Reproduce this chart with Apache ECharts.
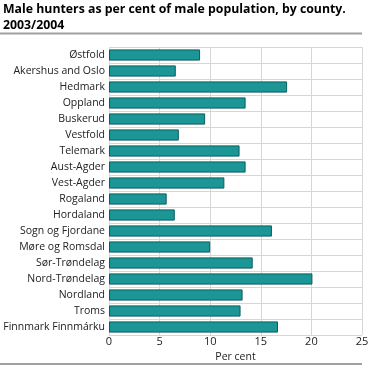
<!DOCTYPE html>
<html>
<head>
<meta charset="utf-8">
<script src="https://cdn.jsdelivr.net/npm/echarts@6/dist/echarts.min.js"></script>
<style>
html,body{margin:0;padding:0;background:#fff;}
#c{width:368px;height:367px;}
</style>
</head>
<body>
<div id="c"></div>
<script>
const categories = ["Østfold","Akershus and Oslo","Hedmark","Oppland","Buskerud","Vestfold","Telemark","Aust-Agder","Vest-Agder","Rogaland","Hordaland","Sogn og Fjordane","Møre og Romsdal","Sør-Trøndelag","Nord-Trøndelag","Nordland","Troms","Finnmark Finnmárku"];
const values = [9.0, 6.6, 17.6, 13.5, 9.5, 6.9, 12.9, 13.5, 11.4, 5.7, 6.5, 16.1, 10.0, 14.2, 20.1, 13.2, 13.0, 16.7];
const xTicks = [0, 5, 10, 15, 20, 25];
const titleText = "Male hunters as per cent of male population, by county.\n2003/2004";
const xAxisName = "Per cent";

const chart = echarts.init(document.getElementById('c'), null, {renderer:'canvas'});
const font = "'Open Sans', sans-serif";
chart.setOption({
  animation:false,
  textStyle:{fontFamily:font},
  title:{
    text:titleText, left:3, top:0, padding:[1,0,0,0],
    textStyle:{fontFamily:font,fontSize:12.3,fontWeight:'bold',color:'#000',lineHeight:16}
  },
  graphic:[
    {type:'rect',z:100,shape:{x:0,y:32.5,width:362,height:2},style:{fill:'#a0a0a0'}},
    {type:'rect',z:100,shape:{x:0,y:363,width:362,height:2},style:{fill:'#a0a0a0'}}
  ],
  grid:{left:109,right:6,top:47,bottom:32,containLabel:false,outerBoundsMode:'none'},
  xAxis:{
    type:'value', min:xTicks[0], max:xTicks[xTicks.length-1], interval:5,
    name:xAxisName, nameLocation:'middle', nameGap:16,
    nameTextStyle:{fontFamily:font,fontSize:10.5,color:'#222'},
    axisLine:{show:false}, axisTick:{show:false},
    axisLabel:{fontFamily:font,fontSize:11,color:'#222',margin:1},
    splitLine:{show:true,lineStyle:{color:'#d6d6d6',width:1}}
  },
  yAxis:{
    type:'category', data:categories, inverse:true,
    axisLine:{show:false}, axisTick:{show:false},
    axisLabel:{fontFamily:font,fontSize:10.5,color:'#222',margin:4},
    splitLine:{show:true,lineStyle:{color:'#d6d6d6',width:1}}
  },
  series:[{
    type:'bar', data:values, barCategoryGap:'30%',
    itemStyle:{color:'#1a9696',borderColor:'#0e5c5c',borderWidth:1}
  }]
});
</script>
</body>
</html>
